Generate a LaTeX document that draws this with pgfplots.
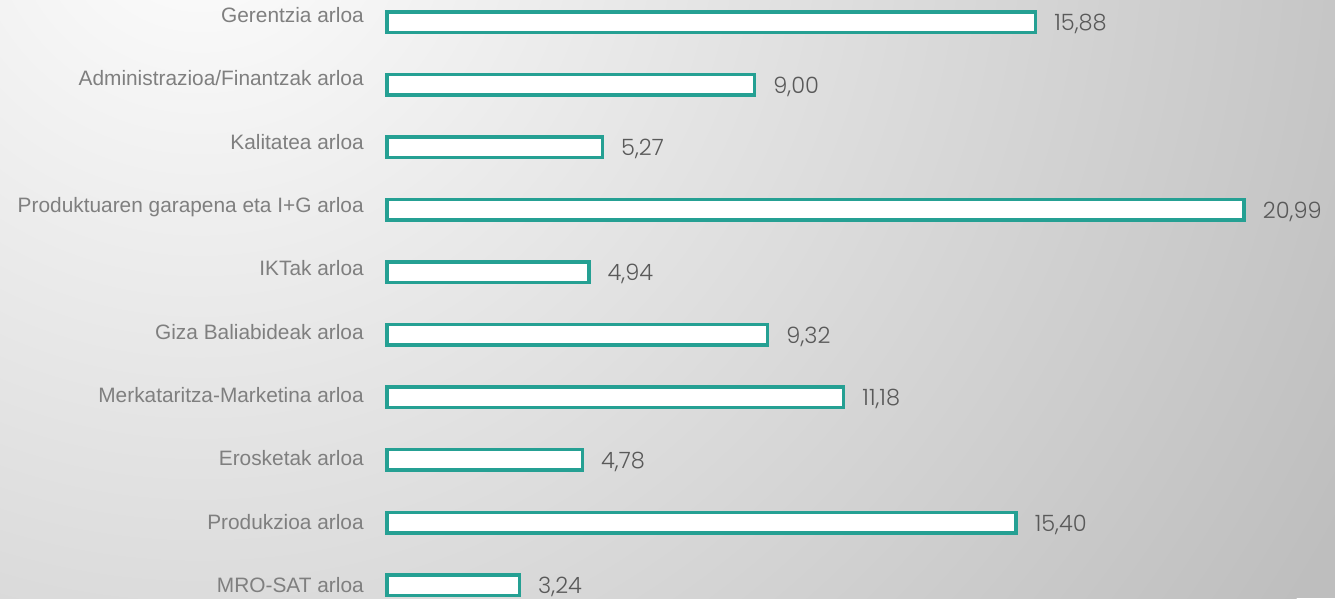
\documentclass[border=0pt]{standalone}
\usepackage{fontspec}
\setmainfont{Liberation Sans}
\newfontfamily\valfont{Poppins}[UprightFont=* Light]
\usepackage{pgfplots}
\pgfplotsset{compat=1.18}
\definecolor{barc}{RGB}{37,160,147}
\definecolor{labc}{RGB}{127,127,127}
\definecolor{valc}{RGB}{89,89,89}
\definecolor{bgin}{RGB}{254,254,254}
\definecolor{bgout}{RGB}{190,190,190}
\begin{document}
\begin{tikzpicture}
\begin{scope}
\clip (0pt,0pt) rectangle (1335pt,598pt);
\fill[bgout] (0pt,0pt) rectangle (1335pt,598pt);
\shade[inner color=bgin, outer color=bgout] (200pt,698pt) circle (1300pt);
\end{scope}
\begin{axis}[
  at={(387.2pt,0pt)}, anchor=south west,
  scale only axis, width=947.8pt, height=598pt,
  xmin=0, xmax=23.213,
  y dir=reverse, ymin=-0.3517, ymax=9.207,
  enlargelimits=false,
  xbar, bar width=20.5pt,
  axis line style={draw=none},
  xtick=\empty,
  ytick={0.0112,1.0229,2.0345,3.0462,4.0579,5.0695,6.0812,7.0929,8.1046,9.1162},
  yticklabels={Gerentzia arloa,Administrazioa/Finantzak arloa,Kalitatea arloa,Produktuaren garapena eta I+G arloa,IKTak arloa,Giza Baliabideak arloa,Merkataritza-Marketina arloa,Erosketak arloa,Produkzioa arloa,MRO-SAT arloa},
  ytick style={draw=none},
  yticklabel style={anchor=base east, inner sep=0pt, xshift=-19pt, text=labc, font=\fontsize{20.85}{25}\selectfont},
  clip=false,
  point meta=x,
  nodes near coords,
  every node near coord/.append style={anchor=base west, inner sep=0pt, xshift=17pt, yshift=-8.5pt, text=valc, font=\valfont\fontsize{22.5}{26}\selectfont,
    /pgf/number format/.cd, fixed, fixed zerofill, precision=2, use comma, assume math mode=true},
]
\addplot[draw=barc, line width=3.5pt, fill=white] coordinates {
(15.88,0) (9.00,1) (5.27,2) (20.99,3) (4.94,4) (9.32,5) (11.18,6) (4.78,7) (15.40,8) (3.24,9)
};
\end{axis}
\pgfresetboundingbox
\useasboundingbox (0pt,0pt) rectangle (1335pt,598pt);
\end{tikzpicture}
\end{document}
